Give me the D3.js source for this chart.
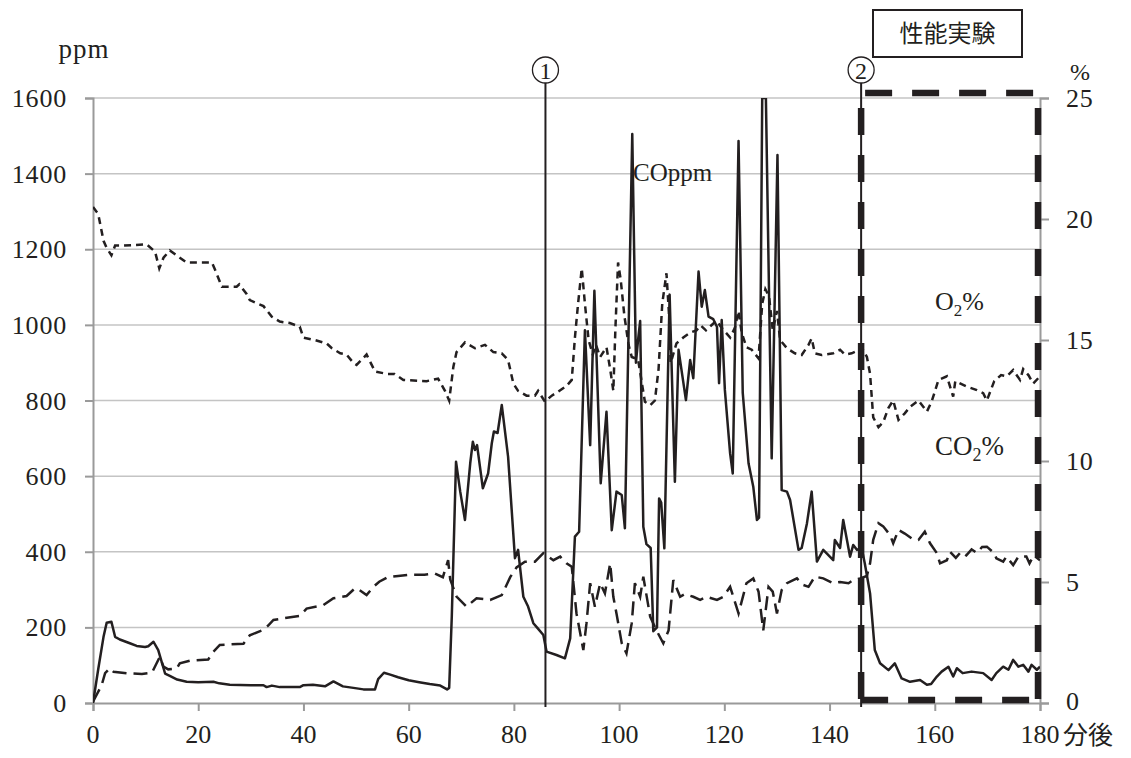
<!DOCTYPE html>
<html><head><meta charset="utf-8">
<script src="https://cdn.jsdelivr.net/npm/d3@7"></script>
<style>
html,body{margin:0;padding:0;background:#fff;}
svg text{font-family:"Liberation Serif","DejaVu Serif",serif;fill:#231f20;}
.jp{font-family:"Noto Sans CJK JP",sans-serif;}
</style></head>
<body><svg id="c" width="1131" height="758"></svg>
<script>
// ---- data ----
const xTicks = [0,20,40,60,80,100,120,140,160,180];
const ppmTicks = [0,200,400,600,800,1000,1200,1400,1600];
const pctTicks = [0,5,10,15,20,25];
const markers = [{t:86,label:"1"},{t:146,label:"2"}];
const testRange = [146,180];

const coMin = [0,1,2,2.6,3.5,4.2,5.1,7,8.3,9.9,10.5,11.5,12.4,13.7,14.6,16,17.8,20,22.9,24,26,30,32.4,33,34,35.5,39.3,40,41.8,44.1,45.7,47.5,49.5,51.4,53.6,54.2,55.3,56.5,58,60,62,64,66,67.3,67.7,68.2,69,69.8,70.7,71.7,72.2,72.6,73,74.1,75.1,75.8,76.2,76.9,77.7,78.9,80.2,80.8,81.8,82.7,83.7,84.5,85.6,86.2,88.1,89.7,90.7,91.6,92.4,93.5,94.5,95.3,96.5,97.6,98.6,99.5,100.5,101.1,102.5,103.2,103.6,104,104.6,105.2,106,106.5,107.2,107.6,108,108.6,109.6,110.6,111.3,112.7,113.5,114.1,115.1,115.7,116.3,117,117.9,118.6,119,119.5,120.1,121.1,121.6,122.7,123.5,124.6,125.5,126.2,126.6,127.2,127.9,129,130.1,130.9,131.9,132.5,134.1,134.7,135.7,136.6,137.6,138.8,139.5,140.7,141,142,142.6,143.9,144.5,145.2,146.1,146.7,147.7,148.6,149.6,151.2,152.4,153.7,155.3,157.2,158.5,159.3,160.4,161.3,162.6,163.5,164.2,165.3,167,169.2,170.8,171.7,173,174,174.9,175.9,176.8,177.8,178.4,179.4,180];
const coPpm = [0,90,175,212,215,175,168,158,151,148,150,162,140,78,72,62,56,55,56,52,48,47,47,42,46,42,42,47,48,44,57,44,40,36,36,63,80,75,68,60,55,50,46,36,40,230,638,559,484,634,691,669,682,568,607,687,718,714,788,651,383,405,281,255,211,198,180,136,127,118,171,440,453,986,682,1090,581,770,457,559,550,462,1505,900,960,1010,466,420,410,190,200,541,530,409,1080,585,934,801,907,859,1141,1048,1092,1022,1015,995,846,1013,828,660,607,1486,820,634,572,484,490,1600,1600,647,1449,563,559,537,405,410,475,559,374,405,395,378,431,410,484,387,418,405,410,369,290,140,105,87,105,65,56,61,48,50,70,83,96,70,92,79,83,79,61,79,96,88,114,96,101,83,101,88,96];

const o2Min = [0,1,2,2.6,3.5,4.2,5.8,10.2,11.8,12.6,13.4,14.6,16.5,17.8,22.6,23.2,24.5,27.3,27.8,29.2,29.8,32.4,34,35.5,37.4,39.3,40,42.1,44.4,45.4,47,48.2,49.5,50.1,52,53.6,55.8,57.3,59,63.4,65.6,66.9,67.7,68.5,69.1,70.7,72.6,74.5,76.1,77.7,78.9,79.9,80.8,82.4,84,84.6,85.9,87.2,88.4,90,91,91.6,92.2,92.9,93.5,94.2,95,95.6,96.4,97.6,98.3,98.9,99.3,99.8,100.3,101,101.8,102.4,103.6,104.9,105.9,106.8,107.5,108.2,109,109.5,109.8,110.9,112.2,113.5,114.7,115.5,116.5,117.5,118.5,119.5,121.1,122,122.7,123.3,124.2,125.2,126.5,127.2,127.8,128.5,129.2,130,130.6,131.9,133.4,134.7,136,136.6,137.2,138.5,140.7,142,142.9,144.2,145.8,146.1,147.1,147.7,148.3,149.3,150.2,151.2,152.1,153.1,154.3,155.3,156.9,158.5,159.4,160.7,162.3,163.5,163.9,166.1,168,169.2,169.9,171.3,172.6,173.7,174.9,176.2,176.8,177.8,178.7,180];
const o2Pct = [20.5,20.2,19.1,18.8,18.5,18.9,18.9,18.95,18.65,17.96,18.4,18.7,18.4,18.2,18.2,17.9,17.2,17.2,17.3,16.9,16.65,16.4,15.96,15.76,15.7,15.55,15.1,15.0,14.86,14.66,14.45,14.4,14.05,13.97,14.4,13.7,13.6,13.6,13.35,13.3,13.4,12.9,12.5,13.9,14.5,14.9,14.66,14.8,14.5,14.45,14.17,13.2,12.9,12.7,12.7,12.9,12.45,12.7,12.86,13.1,13.35,15.1,16.5,17.96,16.5,15.0,14.4,14.8,14.3,14.7,13.8,12.9,15.5,18.2,17.5,16.0,14.8,14.3,14.2,12.45,12.3,12.5,13.8,16.5,17.76,16.0,14.05,14.86,15.1,15.3,15.4,15.6,15.4,15.6,15.8,15.5,15.1,15.5,16.2,15.3,14.7,14.6,14.24,16.5,17.1,16.8,15.4,16.2,15.0,14.66,14.45,14.38,14.8,15.07,14.45,14.38,14.45,14.6,14.4,14.45,14.6,14.7,14.3,13.6,11.8,11.4,11.6,12.2,12.5,11.7,11.97,12.24,12.5,12.04,12.45,13.35,13.5,12.66,13.3,13.07,12.93,12.8,12.5,13.3,13.55,13.5,13.76,13.35,13.8,13.55,13.2,13.5];

const co2Min = [0,1.65,2.3,3.2,3.9,6.4,9.3,11.2,12.7,13.4,14.3,15.9,16.5,18.4,21.9,22.9,24.1,28.6,29.8,32.1,33.3,34.3,36.2,39.3,40.6,43.8,45.7,48.2,49.8,50.4,52,53.3,54.4,56,58,60,63,65,66.5,67.5,67.9,69.1,71,72.9,75.5,77.7,79.3,80.5,82.1,84,85.6,87.5,88.8,90,91,91.9,93.2,93.8,94.5,95.4,96.4,97.3,98.3,98.9,99.5,100.5,101.4,102.4,103,104,104.6,105.9,107.1,108.4,109.4,110.3,111.6,112.5,114.1,115.4,116.6,118.6,119.8,121.1,121.7,122.7,124.2,125.5,126.5,127.4,128.4,129.2,130,130.9,131.9,133.8,135,136,137.2,138.8,140.7,142,143.6,144.5,145.8,147.1,147.7,148.3,149.3,150.2,151.5,152.1,153.1,154.3,155.6,156.9,158.1,159.1,160.4,161,162.3,162.9,164,165,166,167,168,169,169.9,171.3,171.7,173,173.6,174.9,175.9,177.4,178,178.8,180];
const co2Pct = [0.05,0.74,1.23,1.43,1.29,1.23,1.2,1.25,1.91,1.5,1.39,1.43,1.64,1.75,1.8,2.12,2.4,2.45,2.8,3.0,3.2,3.43,3.5,3.6,3.9,4.05,4.33,4.42,4.74,4.7,4.46,4.8,5.01,5.2,5.25,5.3,5.3,5.35,5.2,5.9,5.1,4.4,3.98,4.33,4.26,4.46,5.2,5.6,5.84,5.84,6.19,5.9,6.05,5.77,5.63,3.7,2.19,3.3,4.95,3.98,4.95,4.53,5.77,4.39,3.7,2.47,2.05,3.3,4.95,4.39,5.22,3.57,3.0,2.47,3.0,5.08,4.39,4.5,4.39,4.26,4.39,4.26,4.39,4.8,4.39,3.7,4.95,5.15,4.6,3.0,4.8,4.6,3.7,4.67,4.95,5.15,4.88,4.8,5.22,5.15,4.95,5.0,4.95,5.08,5.15,5.25,5.77,6.74,7.43,7.3,6.94,6.6,7.15,7.0,6.8,6.74,7.08,6.6,6.19,5.77,5.9,6.25,6.0,6.25,6.1,6.35,6.2,6.45,6.46,6.19,5.98,5.84,6.05,5.7,6.05,6.05,5.77,6.1,5.9];

// ---- layout ----
const svg = d3.select("#c");
const L = 93, R = 1040, T = 98, B = 703;
const x = d3.scaleLinear().domain([0,180]).range([L,R]);
const yL = d3.scaleLinear().domain([0,1600]).range([B,T]);
const yR = d3.scaleLinear().domain([0,25]).range([B,T]);
const ink = "#231f20", gridC = "#c4c4c4", axC = "#9a9a9a";

// grid
svg.append("g").selectAll("line").data(ppmTicks.slice(1)).join("line")
  .attr("x1",L).attr("x2",R).attr("y1",d=>yL(d)).attr("y2",d=>yL(d))
  .attr("stroke",gridC).attr("stroke-width",1.5);

// axes
const gx = svg.append("g").attr("transform",`translate(0,${B})`)
  .call(d3.axisBottom(x).tickValues(xTicks).tickSize(8).tickFormat(""));
const gl = svg.append("g").attr("transform",`translate(${L},0)`)
  .call(d3.axisLeft(yL).tickValues(ppmTicks).tickSize(8).tickFormat(""));
const gr = svg.append("g").attr("transform",`translate(${R},0)`)
  .call(d3.axisRight(yR).tickValues(pctTicks).tickSize(9).tickFormat(""));
[gx,gl,gr].forEach(g=>{g.selectAll("path,line").attr("stroke",axC).attr("stroke-width",2);});

// tick labels
svg.append("g").selectAll("text").data(xTicks).join("text")
  .attr("x",d=>x(d)).attr("y",743).attr("text-anchor","middle")
  .attr("font-size",26).text(d=>d);
svg.append("text").attr("class","jp").attr("x",x(180)+23).attr("y",744)
  .attr("font-size",25).text("分後");
svg.append("g").selectAll("text").data(ppmTicks).join("text")
  .attr("x",67).attr("y",d=>yL(d)+9).attr("text-anchor","end")
  .attr("font-size",26).attr("letter-spacing",0.8).text(d=>d);
svg.append("g").selectAll("text").data(pctTicks).join("text")
  .attr("x",1066).attr("y",d=>yR(d)+(d===0?7:9)).attr("text-anchor","start")
  .attr("font-size",26).attr("letter-spacing",0.8).text(d=>d);
svg.append("text").attr("x",84).attr("y",58).attr("text-anchor","middle").attr("font-size",27).attr("letter-spacing",1).text("ppm");
svg.append("text").attr("x",1080).attr("y",80).attr("text-anchor","middle").attr("font-size",24).text("%");

// series
svg.append("clipPath").attr("id","pc").append("rect").attr("x",L).attr("y",T).attr("width",R-L).attr("height",B-T+2);
const plot = svg.append("g").attr("clip-path","url(#pc)");
const mk = (ts,vs)=>ts.map((t,i)=>[t,vs[i]]);
const lineL = d3.line().x(d=>x(d[0])).y(d=>yL(d[1]));
const lineR = d3.line().x(d=>x(d[0])).y(d=>yR(d[1]));
plot.append("path").attr("d",lineR(mk(co2Min,co2Pct))).attr("fill","none")
  .attr("stroke",ink).attr("stroke-width",2.5).attr("stroke-dasharray","14,7");
plot.append("path").attr("d",lineR(mk(o2Min,o2Pct))).attr("fill","none")
  .attr("stroke",ink).attr("stroke-width",2.5).attr("stroke-dasharray","7,5");
plot.append("path").attr("d",lineL(mk(coMin,coPpm))).attr("fill","none")
  .attr("stroke",ink).attr("stroke-width",2.5).attr("stroke-linejoin","round");

// marker lines
markers.forEach(m=>{
  const cx = x(m.t);
  svg.append("line").attr("x1",cx).attr("x2",cx).attr("y1",83).attr("y2",707)
    .attr("stroke",ink).attr("stroke-width",2);
  svg.append("circle").attr("cx",cx).attr("cy",70).attr("r",13)
    .attr("fill","none").attr("stroke",ink).attr("stroke-width",1.3);
  svg.append("text").attr("x",cx).attr("y",78.5).attr("text-anchor","middle")
    .attr("font-family","DejaVu Sans").attr("font-size",24).text(m.label);
});

// test dashed box
const bx0 = x(testRange[0]), bx1 = x(testRange[1]) - 2;
const boxS = {stroke:ink, "stroke-width":6.5, "stroke-dasharray":"27,20"};
const seg = (x1,y1,x2,y2,off)=>{const l=svg.append("line").attr("x1",x1).attr("y1",y1).attr("x2",x2).attr("y2",y2).attr("stroke-dashoffset",off);
  Object.entries(boxS).forEach(([k,v])=>l.attr(k,v));};
seg(bx0+4,93,R,93,0);
seg(bx0,700,R,700,0);
seg(bx0,93,bx0,703,-15);
seg(bx1,93,bx1,703,-15);

// title box
svg.append("rect").attr("x",873).attr("y",10).attr("width",149).attr("height",47)
  .attr("fill","#fff").attr("stroke",ink).attr("stroke-width",2);
svg.append("text").attr("class","jp").attr("x",947.5).attr("y",42).attr("text-anchor","middle")
  .attr("font-size",24).text("性能実験");

// series labels
svg.append("text").attr("x",633).attr("y",181).attr("font-size",25).text("COppm");
const o2t = svg.append("text").attr("x",935).attr("y",310).attr("font-size",26);
o2t.append("tspan").text("O");
o2t.append("tspan").attr("font-size",17).attr("dy",6).text("2");
o2t.append("tspan").attr("dy",-6).text("%");
const co2t = svg.append("text").attr("x",935).attr("y",455).attr("font-size",27);
co2t.append("tspan").text("CO");
co2t.append("tspan").attr("font-size",18).attr("dy",6).text("2");
co2t.append("tspan").attr("dy",-6).text("%");
</script></body></html>
